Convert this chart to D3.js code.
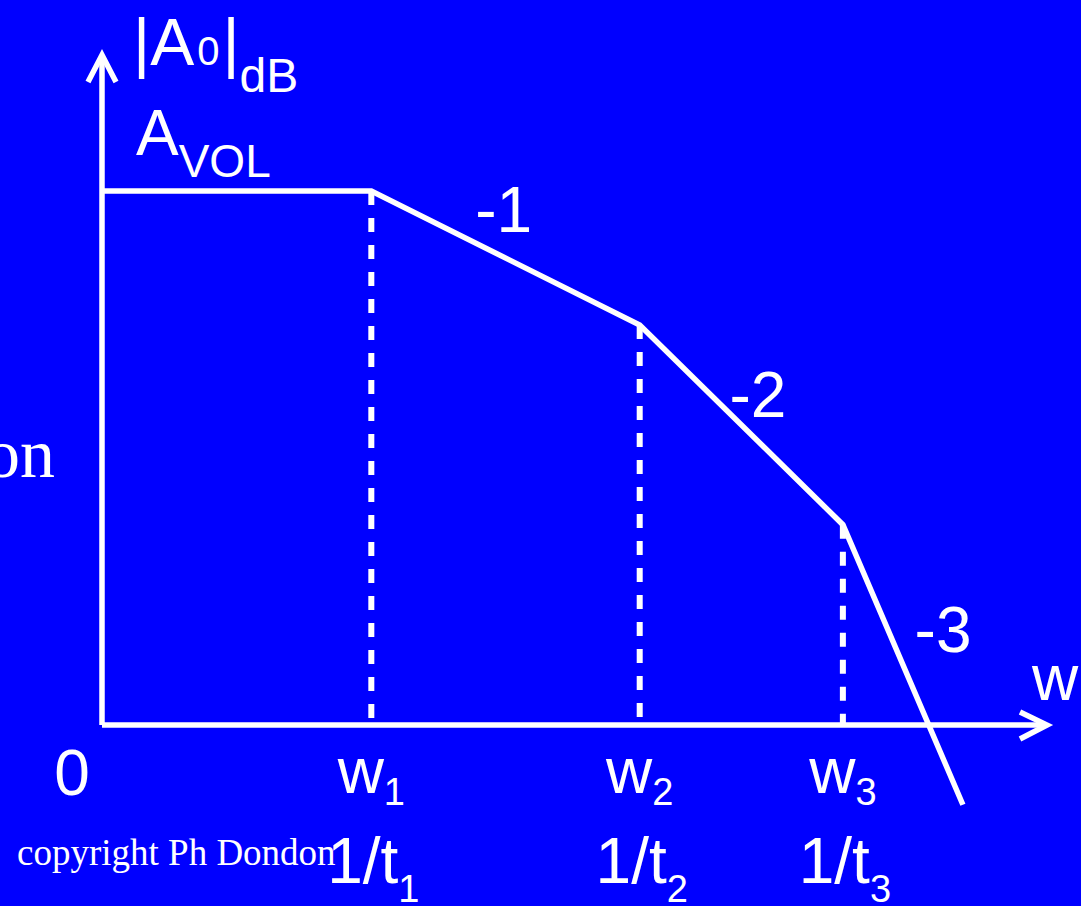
<!DOCTYPE html>
<html>
<head>
<meta charset="utf-8">
<script src="https://cdn.jsdelivr.net/npm/d3@7"></script>
<style>
  html, body { margin: 0; padding: 0; background: #0000ff; overflow: hidden; }
  svg { display: block; }
  text { fill: #fff; font-family: "Liberation Sans", Arial, sans-serif; }
  .serif { font-family: "Liberation Serif", "Times New Roman", serif; }
</style>
</head>
<body>
<div id="chart"></div>
<script>
// asymptotic Bode plot values (arbitrary units, 0..100)
const omega = [0, 28.5, 56.9, 78.4, 91.1];
const gainDb = [79.7, 79.7, 59.7, 29.9, -11.9];
const breakNames = ["1", "2", "3"];
const slopeLabels = ["-1", "-2", "-3"];
const slopeAt = [[42.5, 73.6], [69.4, 46.0], [89.0, 10.9]];

const w = 1081, h = 906;
const white = "#fff";

const x = d3.scaleLinear().domain([0, 100]).range([102, 1047]);
const y = d3.scaleLinear().domain([0, 100]).range([725, 55]);

const svg = d3.select("#chart").append("svg")
  .attr("width", w)
  .attr("height", h);

svg.append("rect").attr("width", w).attr("height", h).attr("fill", "#0000ff");

// axes with arrow heads
const axes = svg.append("g")
  .attr("stroke", white)
  .attr("stroke-width", 5.5)
  .attr("fill", "none");

axes.append("line")
  .attr("x1", x(0)).attr("y1", y(0))
  .attr("x2", x(0)).attr("y2", y(100));
axes.append("polyline")
  .attr("points", [[x(0) - 14, y(100) + 27], [x(0), y(100)], [x(0) + 14, y(100) + 27]].join(" "));

axes.append("line")
  .attr("x1", x(0)).attr("y1", y(0))
  .attr("x2", x(100)).attr("y2", y(0));
axes.append("polyline")
  .attr("points", [[x(100) - 27, y(0) - 13], [x(100), y(0)], [x(100) - 27, y(0) + 14]].join(" "));

// dashed verticals at the break frequencies
svg.selectAll("line.drop")
  .data(omega.slice(1, 4))
  .enter()
  .append("line")
  .attr("class", "drop")
  .attr("x1", (d) => x(d)).attr("x2", (d) => x(d))
  .attr("y1", (d, i) => y(gainDb[i + 1]))
  .attr("y2", y(0))
  .attr("stroke", white)
  .attr("stroke-width", 6)
  .attr("stroke-dasharray", "14 13");

// the asymptotes
const line = d3.line()
  .x((d) => x(d[0]))
  .y((d) => y(d[1]));

svg.append("path")
  .datum(omega.map((d, i) => [d, gainDb[i]]))
  .attr("d", line)
  .attr("fill", "none")
  .attr("stroke", white)
  .attr("stroke-width", 5.5)
  .attr("stroke-linejoin", "miter");

// slope labels
svg.selectAll("text.slope")
  .data(slopeLabels)
  .enter()
  .append("text")
  .attr("class", "slope")
  .attr("x", (d, i) => x(slopeAt[i][0]))
  .attr("y", (d, i) => y(slopeAt[i][1]))
  .attr("text-anchor", "middle")
  .attr("font-size", 64)
  .text((d) => d);

// frequency labels under the axis
const wl = svg.selectAll("text.wl")
  .data(breakNames)
  .enter()
  .append("text")
  .attr("class", "wl")
  .attr("x", (d, i) => x(omega[i + 1]))
  .attr("y", 793)
  .attr("text-anchor", "middle")
  .attr("font-size", 64);
wl.append("tspan").text("w");
wl.append("tspan").attr("font-size", 38).attr("dy", 12).text((d) => d);

const tl = svg.selectAll("text.tl")
  .data(breakNames)
  .enter()
  .append("text")
  .attr("class", "tl")
  .attr("x", (d, i) => x(omega[i + 1]) + 2)
  .attr("y", 883)
  .attr("text-anchor", "middle")
  .attr("font-size", 64);
tl.append("tspan").text("1/t");
tl.append("tspan").attr("font-size", 38).attr("dy", 19).text((d) => d);

svg.append("text")
  .attr("x", 72).attr("y", 795)
  .attr("text-anchor", "middle")
  .attr("font-size", 64)
  .text("0");

svg.append("text")
  .attr("x", 1032).attr("y", 700)
  .attr("font-size", 64)
  .text("w");

// y axis title
const yt = svg.append("text")
  .attr("x", 133).attr("y", 65)
  .attr("font-size", 66);
yt.append("tspan").text("|A");
yt.append("tspan").attr("font-size", 40).attr("dx", 3).text("0");
yt.append("tspan").attr("dx", 3).text("|");
yt.append("tspan").attr("font-size", 48).attr("dy", 27).text("dB");

const av = svg.append("text")
  .attr("x", 136).attr("y", 155)
  .attr("font-size", 64);
av.append("tspan").text("A");
av.append("tspan").attr("font-size", 46).attr("dy", 22).text("VOL");

// leftovers from the slide
svg.append("text")
  .attr("class", "serif")
  .attr("x", 55).attr("y", 477)
  .attr("text-anchor", "end")
  .attr("font-size", 70)
  .text("on");

svg.append("text")
  .attr("class", "serif")
  .attr("x", 17).attr("y", 865)
  .attr("font-size", 37)
  .text("copyright Ph Dondon");
</script>
</body>
</html>
